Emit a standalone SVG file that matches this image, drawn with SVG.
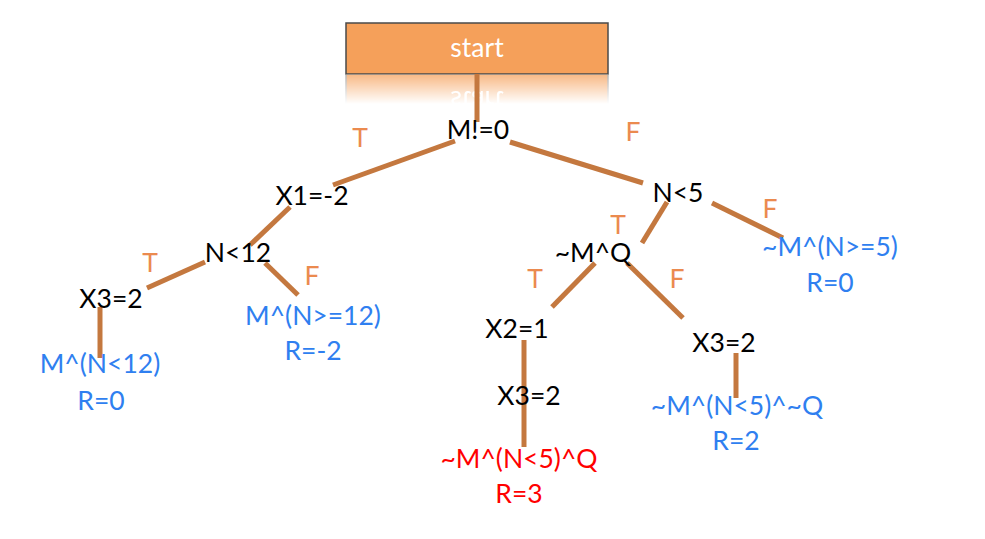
<svg xmlns="http://www.w3.org/2000/svg" width="985" height="539" viewBox="0 0 985 539">
<style>
.t{font-family:Lato,"Liberation Sans",sans-serif;font-size:26.5px;text-anchor:middle}
.k{fill:#000}
.b{fill:#2F7FF0}
.r{fill:#FF0000}
.l{fill:#EB8A4F}
.w{fill:#fff}
.c{stroke:#C4783F;stroke-width:5;fill:none}
</style>
<defs>
<linearGradient id="fade" x1="0" y1="0" x2="0" y2="1">
<stop offset="0" stop-color="#fff" stop-opacity="0.75"/>
<stop offset="1" stop-color="#fff" stop-opacity="0"/>
</linearGradient>
<mask id="rm" maskUnits="userSpaceOnUse" x="340" y="74" width="280" height="32">
<rect x="340" y="74" width="280" height="30" fill="url(#fade)"/>
</mask>
</defs>
<rect width="985" height="539" fill="#fff"/>
<g id="start">
<rect x="346" y="23" width="262" height="51" fill="#F5A05A" stroke="#4a4a4a" stroke-width="1.5"/>
<text class="t w" x="477" y="57">start</text>
<g mask="url(#rm)">
<rect x="346" y="74" width="262" height="51" fill="#F5A05A" stroke="#9a9a9a" stroke-width="1.5"/>
<text class="t w" transform="translate(0,148) scale(1,-1)" x="477" y="57">start</text>
</g>
</g>
<g id="connectors">
<line class="c" x1="477" y1="74" x2="477" y2="122"/>
<line class="c" x1="455" y1="141" x2="333" y2="185"/>
<line class="c" x1="510" y1="142" x2="643" y2="183"/>
<line class="c" x1="290" y1="207" x2="250" y2="245"/>
<line class="c" x1="205" y1="262" x2="147" y2="288"/>
<line class="c" x1="265" y1="263" x2="298" y2="295"/>
<line class="c" x1="100" y1="307" x2="100" y2="358"/>
<line class="c" x1="667" y1="202" x2="642" y2="243"/>
<line class="c" x1="712" y1="203" x2="783" y2="238"/>
<line class="c" x1="595" y1="263" x2="552" y2="307"/>
<line class="c" x1="627" y1="263" x2="683" y2="318"/>
<line class="c" x1="524" y1="340" x2="524" y2="447"/>
<line class="c" x1="736" y1="353" x2="736" y2="398"/>
</g>
<g id="edge-labels">
<text class="t l" x="360" y="147">T</text>
<text class="t l" x="633" y="141">F</text>
<text class="t l" x="150" y="272">T</text>
<text class="t l" x="312" y="285">F</text>
<text class="t l" x="618" y="234">T</text>
<text class="t l" x="770" y="218">F</text>
<text class="t l" x="535" y="288">T</text>
<text class="t l" x="677" y="288">F</text>
</g>
<g id="n-m0"><text class="t k" x="478" y="139">M!=0</text></g>
<g id="n-x1"><text class="t k" x="312" y="205">X1=-2</text></g>
<g id="n-n12"><text class="t k" x="238" y="262">N&lt;12</text></g>
<g id="n-x3a"><text class="t k" x="111" y="308">X3=2</text></g>
<g id="leaf-a"><text class="t b" x="100" y="373">M^(N&lt;12)</text><text class="t b" x="101" y="410">R=0</text></g>
<g id="leaf-b"><text class="t b" x="313" y="325">M^(N&gt;=12)</text><text class="t b" x="313" y="360">R=-2</text></g>
<g id="n-n5"><text class="t k" x="678" y="202">N&lt;5</text></g>
<g id="leaf-c"><text class="t b" x="830" y="256">~M^(N&gt;=5)</text><text class="t b" x="830" y="292">R=0</text></g>
<g id="n-mq"><text class="t k" x="593" y="262">~M^Q</text></g>
<g id="n-x2"><text class="t k" x="517" y="338">X2=1</text></g>
<g id="n-x3b"><text class="t k" x="529" y="405">X3=2</text></g>
<g id="leaf-d"><text class="t r" x="519" y="468">~M^(N&lt;5)^Q</text><text class="t r" x="519" y="503">R=3</text></g>
<g id="n-x3c"><text class="t k" x="724" y="352">X3=2</text></g>
<g id="leaf-e"><text class="t b" x="737" y="415">~M^(N&lt;5)^~Q</text><text class="t b" x="736" y="450">R=2</text></g>
</svg>
